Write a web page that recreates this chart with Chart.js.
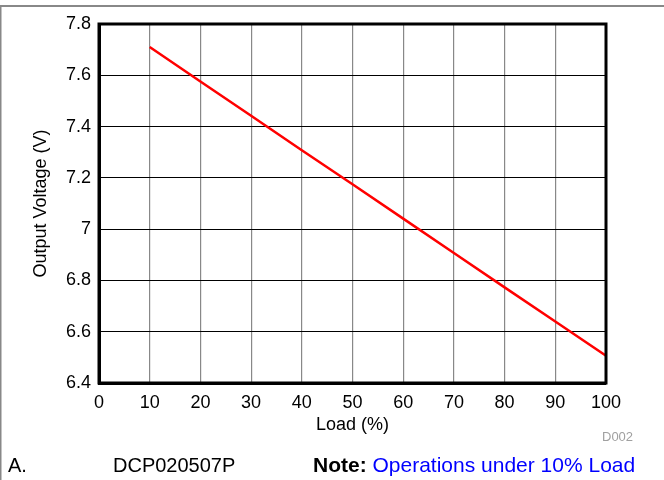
<!DOCTYPE html>
<html>
<head>
<meta charset="utf-8">
<script src="https://cdn.jsdelivr.net/npm/chart.js@4"></script>
<style>
  body { margin: 0; background: #fff; }
  #wrap { position: relative; width: 664px; height: 480px; }
</style>
</head>
<body>
<div id="wrap"><canvas id="load-curve"></canvas></div>
<script>
// values
var loads = [10, 20, 30, 40, 50, 60, 70, 80, 90, 100];
var voltage = [7.71, 7.576, 7.442, 7.308, 7.175, 7.041, 6.907, 6.773, 6.64, 6.506];

var fontFamily = '"Liberation Sans", Arial, Helvetica, sans-serif';

// outer frame, plot box and the notes under the chart
var decorations = {
    id: 'decorations',
    beforeDraw: function (chart) {
        var c = chart.ctx;
        c.save();
        c.fillStyle = '#888';
        c.fillRect(0, 5, 664, 2);
        c.fillRect(0, 5, 1.5, 475);
        c.restore();
    },
    afterDatasetsDraw: function (chart) {
        var c = chart.ctx, a = chart.chartArea;
        c.save();
        c.strokeStyle = '#000';
        c.lineWidth = 3;
        c.strokeRect(a.left, a.top, a.right - a.left, a.bottom - a.top);
        c.restore();
    },
    afterDraw: function (chart) {
        var c = chart.ctx;
        c.save();
        c.textBaseline = 'alphabetic';
        c.fillStyle = '#a0a0a0';
        c.font = '13px ' + fontFamily;
        c.fillText('D002', 602, 441);

        c.fillStyle = '#000';
        c.font = '20px ' + fontFamily;
        c.fillText('A.', 8, 471.5);
        c.fillText('DCP020507P', 113, 471.5);

        c.font = 'bold 21px ' + fontFamily;
        c.fillText('Note:', 313, 471.5);
        var w = c.measureText('Note: ').width;
        c.font = '21px ' + fontFamily;
        c.fillStyle = '#0000ff';
        c.fillText('Operations under 10% Load', 313 + w, 471.5);
        c.restore();
    }
};

var ctx = document.getElementById('load-curve');
var myChart = new Chart(ctx, {
    type: 'line',
    data: {
        labels: loads,
        datasets: [{
            data: voltage,
            label: 'Output Voltage',
            borderColor: '#ff0000',
            borderWidth: 2.5,
            pointRadius: 0,
            fill: false,
            tension: 0
        }]
    },
    options: {
        responsive: true,
        maintainAspectRatio: false,
        animation: false,
        layout: { padding: { top: 24, right: 58, left: 0, bottom: 0 } },
        plugins: {
            legend: { display: false },
            tooltip: { enabled: false }
        },
        scales: {
            x: {
                type: 'linear',
                min: 0,
                max: 100,
                ticks: {
                    stepSize: 10,
                    padding: 9,
                    color: '#000',
                    font: { family: fontFamily, size: 18 }
                },
                grid: { color: '#888', lineWidth: 1.2, drawTicks: false },
                border: { color: '#000', width: 3 },
                title: {
                    display: true,
                    text: 'Load (%)',
                    color: '#000',
                    font: { family: fontFamily, size: 18 },
                    padding: { top: 0, bottom: 44 }
                },
                afterFit: function (axis) { axis.height = 97; }
            },
            y: {
                min: 6.4,
                max: 7.8,
                ticks: {
                    stepSize: 0.2,
                    padding: 8,
                    color: '#000',
                    font: { family: fontFamily, size: 18 },
                    callback: function (v) { return String(Number(v.toFixed(1))); }
                },
                grid: { color: '#000', lineWidth: 1, drawTicks: false },
                border: { color: '#000', width: 3 },
                title: {
                    display: true,
                    text: 'Output Voltage (V)',
                    color: '#000',
                    font: { family: fontFamily, size: 18 },
                    padding: { top: 30, bottom: 0 }
                },
                afterFit: function (axis) { axis.width = 99; }
            }
        }
    },
    plugins: [decorations]
});
</script>
</body>
</html>
